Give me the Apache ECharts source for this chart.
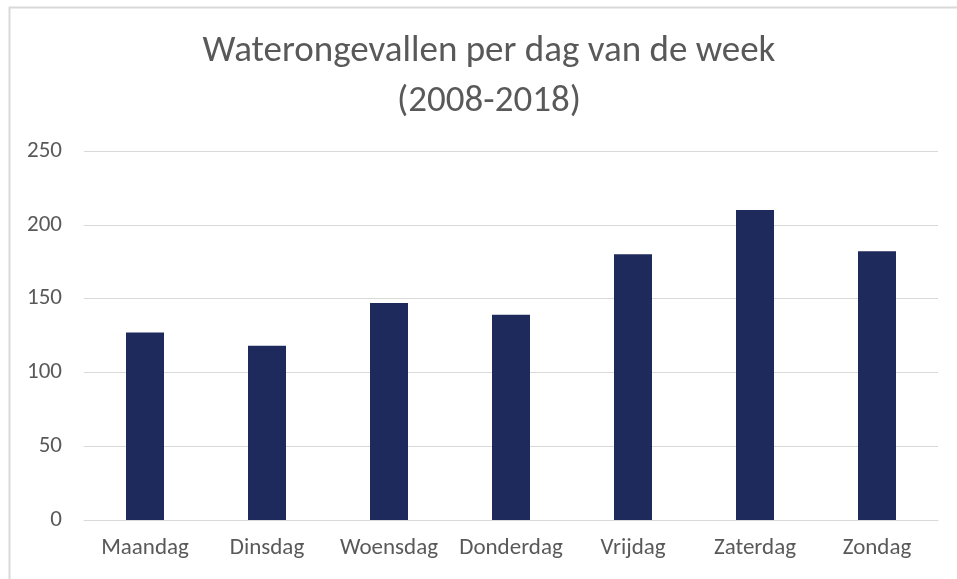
<!DOCTYPE html>
<html>
<head>
<meta charset="utf-8">
<script src="https://cdn.jsdelivr.net/npm/echarts@6/dist/echarts.min.js"></script>
<style>html,body{margin:0;padding:0;background:#fff}#c{width:957px;height:579px}</style>
</head>
<body>
<div id="c"></div>
<script>
var titleText = 'Waterongevallen per dag van de week\n(2008-2018)';
var categories = ['Maandag', 'Dinsdag', 'Woensdag', 'Donderdag', 'Vrijdag', 'Zaterdag', 'Zondag'];
var values = [127, 118, 147, 139, 180, 210, 182];
var yTicks = { min: 0, max: 250, interval: 50 };

var chart = echarts.init(document.getElementById('c'), null, { renderer: 'canvas' });
var font = 'Carlito, "Open Sans", "Noto Sans", sans-serif';
chart.setOption({
  animation: false,
  backgroundColor: '#ffffff',
  graphic: [{
    type: 'rect', left: 7, top: 5, z: -1,
    shape: { width: 1100, height: 700 },
    style: { fill: 'none', stroke: '#d9d9d9', lineWidth: 2 }
  }],
  title: {
    text: titleText,
    left: 484, top: 22, textAlign: 'center',
    textStyle: { fontFamily: font, fontSize: 37, fontWeight: 'normal', color: '#595959', lineHeight: 50 }
  },
  grid: { left: 84, right: 19, top: 151, bottom: 59, containLabel: false },
  xAxis: {
    type: 'category', data: categories,
    axisLine: { show: true, lineStyle: { color: '#d9d9d9', width: 1 } },
    axisTick: { show: false },
    axisLabel: { interval: 0, color: '#595959', fontFamily: font, fontSize: 23, margin: 17 }
  },
  yAxis: {
    type: 'value', min: yTicks.min, max: yTicks.max, interval: yTicks.interval,
    axisLine: { show: false }, axisTick: { show: false },
    splitLine: { lineStyle: { color: '#d9d9d9', width: 1 } },
    axisLabel: { color: '#595959', fontFamily: font, fontSize: 23, margin: 22 }
  },
  series: [{
    type: 'bar', data: values, barWidth: 38,
    itemStyle: { color: '#1f2a5c' }
  }]
});
</script>
</body>
</html>
